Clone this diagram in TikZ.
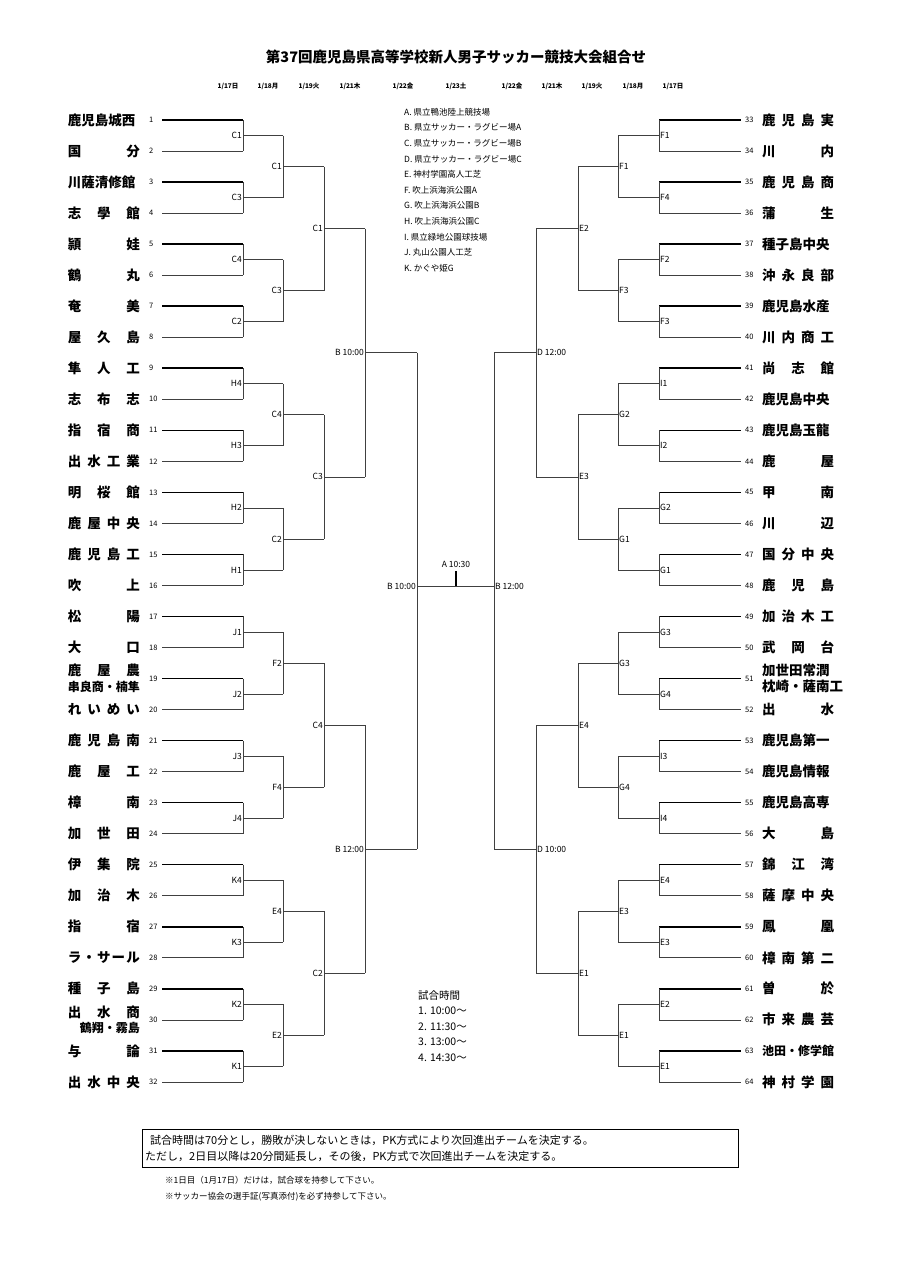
\documentclass[tikz,border=0pt]{standalone}
\usepackage{fontspec}
\setmainfont{Noto Sans CJK JP}
\def\dd{31.03}
\tikzset{lab/.style={font=\fontsize{8.5}{9}\selectfont,inner sep=1pt},
 nm/.style={font=\fontsize{13.5}{15}\selectfont\bfseries,inner sep=0pt},
 num/.style={font=\fontsize{7.5}{9}\selectfont,inner sep=0pt},
 ln/.style={line width=0.7pt,black!75},
 thk/.style={line width=1.5pt}}
\newcommand\bround[5]{%
 \foreach \lab [count=\j] in {#4}{%
   \pgfmathsetmacro\hh{2^(#1-1)}%
   \pgfmathsetmacro\ya{120+(((\j-1)*2*\hh)+(\hh-1)/2)*\dd}%
   \pgfmathsetmacro\yb{\ya+\hh*\dd}%
   \pgfmathsetmacro\ym{(\ya+\yb)/2}%
   \draw[ln] (#2,\ya)--(#2,\yb) (#2,\ym)--(#3,\ym);
   \node[lab,anchor=#5] at (#2,\ym) {\lab};
 }}
\newcommand\wn[1]{\makebox[72pt][s]{#1}}
\newcommand\hf{\hfill}
\begin{document}
\begin{tikzpicture}[x=1pt,y=-1pt]
\useasboundingbox (0,0) rectangle (906,1280);
\node[font=\fontsize{14.5}{16}\selectfont\bfseries] (title) at (456,57) {第37回鹿児島県高等学校新人男子サッカー競技大会組合せ};
\foreach \x/\t in {228/{1/17日},268/{1/18月},309/{1/19火},350/{1/21木},403/{1/22金},456/{1/23土},512/{1/22金},552/{1/21木},592/{1/19火},633/{1/18月},673/{1/17日}}
  \node[font=\fontsize{6.5}{8}\selectfont\bfseries] at (\x,86) {\t};
% venues
\foreach \t [count=\k] in {A. 県立鴨池陸上競技場,B. 県立サッカー・ラグビー場A,C. 県立サッカー・ラグビー場B,D. 県立サッカー・ラグビー場C,E. 神村学園高人工芝,F. 吹上浜海浜公園A,G. 吹上浜海浜公園B,H. 吹上浜海浜公園C,I. 県立緑地公園球技場,J. 丸山公園人工芝,K. かぐや姫G}
  \node[font=\fontsize{8.5}{9}\selectfont,anchor=west,inner sep=0pt] at (404,{112+(\k-1)*15.6}) {\t};
% team lines
\foreach \i in {1,...,32}{
  \pgfmathsetmacro\yy{120+(\i-1)*\dd}
  \pgfmathtruncatemacro\odd{mod(\i,2)}
  \pgfmathtruncatemacro\r{\i+32}
  \ifnum\odd=1
    \draw[thk] (162,\yy)--(243,\yy);
    \draw[thk] (659,\yy)--(741,\yy);
  \else
    \draw[ln] (162,\yy)--(243,\yy);
    \draw[ln] (659,\yy)--(741,\yy);
  \fi
  \node[num,anchor=west] at (149,\yy) {\i};
  \node[num,anchor=west] at (745,\yy) {\r};
}
\foreach \i/\n in {1/鹿児島城西,2/国\hf 分,3/川薩清修館,4/志\hf 學\hf 館,5/頴\hf 娃,6/鶴\hf 丸,7/奄\hf 美,8/屋\hf 久\hf 島,9/隼\hf 人\hf 工,10/志\hf 布\hf 志,11/指\hf 宿\hf 商,12/出\hf 水\hf 工\hf 業,13/明\hf 桜\hf 館,14/鹿\hf 屋\hf 中\hf 央,15/鹿\hf 児\hf 島\hf 工,16/吹\hf 上,17/松\hf 陽,18/大\hf 口,20/れ\hf い\hf め\hf い,21/鹿\hf 児\hf 島\hf 南,22/鹿\hf 屋\hf 工,23/樟\hf 南,24/加\hf 世\hf 田,25/伊\hf 集\hf 院,26/加\hf 治\hf 木,27/指\hf 宿,28/ラ\hf ・\hf サ\hf ー\hf ル,29/種\hf 子\hf 島,31/与\hf 論,32/出\hf 水\hf 中\hf 央}
  \node[nm,anchor=east] at (140,{120+(\i-1)*\dd}) {\wn{\n}};
\node[nm,anchor=east] at (140,{120+18*\dd-8}) {\wn{鹿\hf 屋\hf 農}};
\node[nm,anchor=east,font=\fontsize{12}{13}\selectfont\bfseries] at (140,{120+18*\dd+8}) {串良商・楠隼};
\node[nm,anchor=east] at (140,{120+29*\dd-8}) {\wn{出\hf 水\hf 商}};
\node[nm,anchor=east,font=\fontsize{12}{13}\selectfont\bfseries] at (140,{120+29*\dd+8}) {鶴翔・霧島};
\foreach \i/\n in {1/鹿\hf 児\hf 島\hf 実,2/川\hf 内,3/鹿\hf 児\hf 島\hf 商,4/蒲\hf 生,5/種子島中央,6/沖\hf 永\hf 良\hf 部,7/鹿児島水産,8/川\hf 内\hf 商\hf 工,9/尚\hf 志\hf 館,10/鹿児島中央,11/鹿児島玉龍,12/鹿\hf 屋,13/甲\hf 南,14/川\hf 辺,15/国\hf 分\hf 中\hf 央,16/鹿\hf 児\hf 島,17/加\hf 治\hf 木\hf 工,18/武\hf 岡\hf 台,20/出\hf 水,21/鹿児島第一,22/鹿児島情報,23/鹿児島高専,24/大\hf 島,25/錦\hf 江\hf 湾,26/薩\hf 摩\hf 中\hf 央,27/鳳\hf 凰,28/樟\hf 南\hf 第\hf 二,29/曽\hf 於,30/市\hf 来\hf 農\hf 芸,31/{\fontsize{12}{13}\selectfont 池田・修学館},32/神\hf 村\hf 学\hf 園}
  \node[nm,anchor=west] at (762,{120+(\i-1)*\dd}) {\wn{\n}};
\node[nm,anchor=west] at (762,{120+18*\dd-8}) {\wn{加世田常潤}};
\node[nm,anchor=west] at (762,{120+18*\dd+8}) {\wn{枕崎・薩南工}};
% left rounds
\bround{1}{243}{283}{C1,C3,C4,C2,H4,H3,H2,H1,J1,J2,J3,J4,K4,K3,K2,K1}{east}
\bround{2}{283}{324}{C1,C3,C4,C2,F2,F4,E4,E2}{east}
\bround{3}{324}{365}{C1,C3,C4,C2}{east}
\bround{4}{365}{417}{B 10:00,B 12:00}{east}
% right rounds
\bround{1}{659}{618}{F1,F4,F2,F3,I1,I2,G2,G1,G3,G4,I3,I4,E4,E3,E2,E1}{west}
\bround{2}{618}{578}{F1,F3,G2,G1,G3,G4,E3,E1}{west}
\bround{3}{578}{536}{E2,E3,E4,E1}{west}
\bround{4}{536}{494}{D 12:00,D 10:00}{west}
% semis & final
\coordinate (sl1) at (417,352.7); \coordinate (sl2) at (417,849);
\coordinate (sr1) at (494,352.7); \coordinate (sr2) at (494,849);
\coordinate (fl) at (417,586); \coordinate (fr) at (494,586);
\coordinate (tk) at (456,571); \coordinate (tb) at (456,586);
\draw[ln] (sl1)--(sl2) (sr1)--(sr2) (fl)--(fr);
\draw[line width=1.2pt] (tk)--(tb);
\node[lab,anchor=east] at (fl) {B 10:00};
\node[lab,anchor=west] at (fr) {B 12:00};
\node[lab,anchor=south] at (456,569) {A 10:30};
% times
\node[anchor=north west,font=\fontsize{10.5}{15.6}\selectfont,align=left,inner sep=0pt] (tm) at (418,990) {試合時間\\1. 10:00〜\\2. 11:30〜\\3. 13:00〜\\4. 14:30〜};
% footer
\draw[line width=0.8pt] (142,1129) rectangle (738,1167);
\node[anchor=west,font=\fontsize{11}{16}\selectfont,align=left,inner sep=0pt] at (145,1148) {\ \ 試合時間は70分とし，勝敗が決しないときは，PK方式により次回進出チームを決定する。\\ただし，2日目以降は20分間延長し，その後，PK方式で次回進出チームを決定する。};
\node[anchor=west,font=\fontsize{8.5}{10}\selectfont,inner sep=0pt] at (165,1180) {※1日目（1月17日）だけは，試合球を持参して下さい。};
\node[anchor=west,font=\fontsize{8.5}{10}\selectfont,inner sep=0pt] at (165,1197) {※サッカー協会の選手証(写真添付)を必ず持参して下さい。};
\end{tikzpicture}
\end{document}
